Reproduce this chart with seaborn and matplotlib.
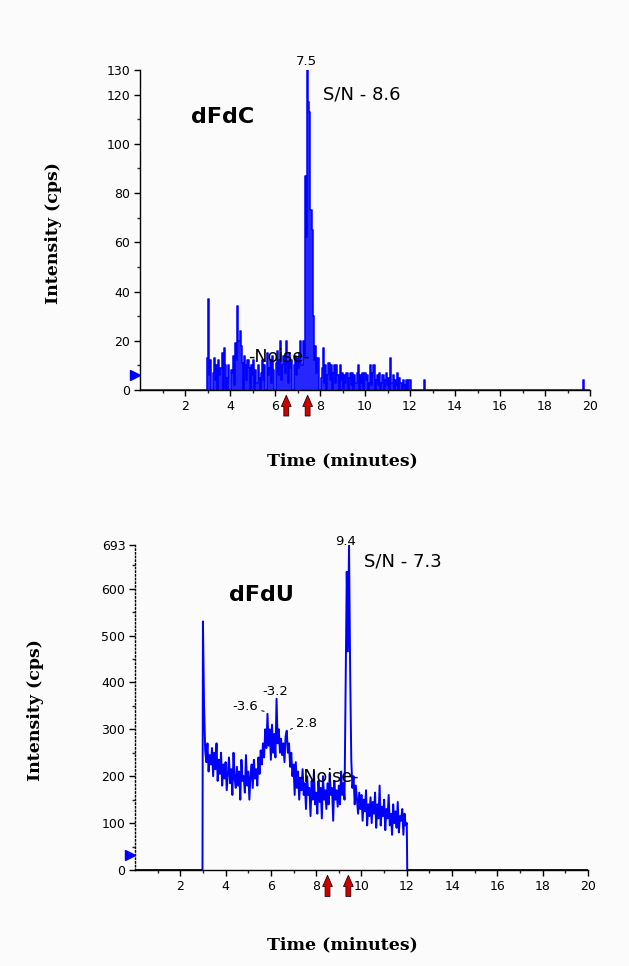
import numpy as np
import pandas as pd
import matplotlib
matplotlib.use("Agg")
import matplotlib.pyplot as plt
import matplotlib.transforms as mtransforms
import seaborn as sns

# ---------------- data ----------------
# dFdC chromatogram: scans every 0.05 min from 2.95 to 12.05 min (counts per second)
dfdc_start, dfdc_step = 2.95, 0.05
dfdc_counts = [
    0, 13, 37, 6, 12, 0, 7, 13, 4, 10,
    0, 12, 6, 9, 15, 0, 17, 10, 0, 5,
    10, 0, 8, 7, 14, 2, 19, 12, 34, 20,
    24, 18, 11, 0, 14, 10, 4, 12, 9, 0,
    10, 6, 12, 0, 8, 3, 10, 5, 0, 7,
    12, 4, 10, 0, 15, 6, 9, 12, 3, 14,
    8, 0, 11, 16, 6, 12, 20, 4, 10, 14,
    7, 20, 11, 3, 15, 9, 12, 0, 10, 14,
    6, 13, 9, 15, 20, 10, 20, 14, 87, 62,
    130, 117, 113, 73, 65, 30, 12, 18, 7, 13,
    13, 0, 5, 9, 17, 3, 10, 0, 6, 11,
    4, 10, 0, 7, 10, 3, 10, 6, 0, 10,
    4, 7, 0, 6, 3, 7, 0, 5, 7, 2,
    7, 0, 6, 3, 7, 10, 0, 6, 3, 7,
    0, 7, 4, 6, 0, 3, 10, 2, 7, 10,
    0, 4, 6, 2, 7, 0, 3, 6, 0, 4,
    7, 2, 5, 0, 13, 3, 6, 0, 4, 2,
    7, 0, 5, 3, 0, 4, 2, 0, 4, 0,
    4, 4, 0,
]
# isolated scans outside the main window
dfdc_extra_t = [0.0, 2.9, 12.6, 12.65, 12.7, 19.65, 19.7, 19.75, 20.0]
dfdc_extra_c = [0, 0, 0, 4, 0, 0, 4, 0, 0]

# dFdU chromatogram: scans every 0.05 min from 3.00 to 12.00 min
dfdu_start, dfdu_step = 3.00, 0.05
dfdu_counts = [
    530, 350, 255, 230, 270, 210, 245, 225, 260, 200,
    250, 215, 270, 190, 235, 205, 250, 180, 225, 195,
    230, 170, 205, 240, 185, 215, 160, 250, 195, 175,
    220, 180, 210, 150, 235, 190, 200, 165, 245, 180,
    210, 150, 200, 225, 175, 235, 195, 215, 180, 240,
    205, 255, 225, 270, 240, 300, 260, 333, 265, 300,
    235, 310, 250, 290, 240, 365, 270, 300, 250, 280,
    245, 270, 230, 285, 297, 250, 270, 220, 250, 200,
    225, 160, 230, 175, 210, 150, 195, 170, 215, 160,
    185, 130, 200, 160, 175, 115, 190, 150, 210, 140,
    165, 120, 190, 145, 175, 110, 200, 150, 170, 130,
    185, 140, 205, 160, 175, 105, 190, 150, 170, 135,
    180, 140, 210, 160, 185, 150, 403, 636, 466, 693,
    424, 233, 175, 200, 140, 180, 150, 120, 165, 130,
    160, 105, 150, 125, 170, 95, 140, 115, 155, 100,
    145, 120, 165, 90, 140, 110, 180, 95, 135, 115,
    150, 85, 130, 110, 160, 95, 120, 75, 140, 100,
    125, 90, 145, 80, 115, 105, 130, 75, 120, 95,
    100,
]
dfdu_extra_t = [0.0, 2.98, 12.02, 20.0]
dfdu_extra_c = [0, 0, 0, 0]

x_ticks = [2, 4, 6, 8, 10, 12, 14, 16, 18, 20]
dfdc_yticks = [0, 20, 40, 60, 80, 100, 120, 130]
dfdu_yticks = [0, 100, 200, 300, 400, 500, 600, 693]

dfdc_arrows = [6.5, 7.45]
dfdu_arrows = [8.5, 9.42]


def build_frame(start, step, counts, extra_t, extra_c):
    t = np.round(start + step * np.arange(len(counts)), 3)
    df = pd.DataFrame({"time": np.r_[t, extra_t], "cps": np.r_[counts, extra_c]})
    return df.sort_values("time").reset_index(drop=True)


dfdc = build_frame(dfdc_start, dfdc_step, dfdc_counts, dfdc_extra_t, dfdc_extra_c)
dfdu = build_frame(dfdu_start, dfdu_step, dfdu_counts, dfdu_extra_t, dfdu_extra_c)

# ---------------- style ----------------
sns.set_style("ticks")
plt.rcParams["font.family"] = ["DejaVu Sans"]
plt.rcParams["text.color"] = "black"
BG = "#fbfbfb"
BLUE = "#0000ff"

fig = plt.figure(figsize=(6.29, 9.66), dpi=100, facecolor=BG)
ax1 = fig.add_axes([0.2226, 0.5963, 0.7154, 0.3312])
ax2 = fig.add_axes([0.2146, 0.0994, 0.7202, 0.3364])


def style_axes(ax, yticks, ymax, yminor, dotted=False):
    ax.set_facecolor(BG)
    ax.set_xlim(0, 20)
    ax.set_ylim(0, ymax)
    ax.set_xticks(x_ticks)
    ax.set_xticks(np.arange(1, 20, 2), minor=True)
    ax.set_yticks(yticks)
    ax.set_yticks(yminor, minor=True)
    ax.set_yticklabels([str(v) for v in yticks])
    for s in ("top", "right"):
        ax.spines[s].set_visible(False)
    for s in ("left", "bottom"):
        ax.spines[s].set_linewidth(1.0)
        ax.spines[s].set_color("black")
    if dotted:
        ax.spines["left"].set_linestyle(":")
    ax.tick_params(axis="both", which="major", length=4, width=1, direction="out",
                   labelsize=9, colors="black", pad=3)
    ax.tick_params(axis="both", which="minor", length=2.5, width=1, direction="out")
    ax.set_xlabel("")
    ax.set_ylabel("")


def arrows(ax, xs):
    tr = mtransforms.blended_transform_factory(ax.transData, ax.transAxes)
    for x in xs:
        ax.annotate("", xy=(x, -0.008), xytext=(x, -0.09), xycoords=tr, textcoords=tr,
                    annotation_clip=False,
                    arrowprops=dict(arrowstyle="simple,head_width=0.7,head_length=0.8,tail_width=0.35",
                                    facecolor="#d00000", edgecolor="#300000", lw=0.6))


def marker(ax, y):
    tr = mtransforms.blended_transform_factory(ax.transAxes, ax.transData)
    ax.plot([-0.012], [y], marker=">", color=BLUE, markersize=7, transform=tr, clip_on=False)


# ---- dFdC panel ----
sns.lineplot(data=dfdc, x="time", y="cps", ax=ax1, color=BLUE, lw=1.1,
             drawstyle="steps-mid", estimator=None, sort=False)
ax1.fill_between(dfdc["time"], dfdc["cps"], step="mid", color=BLUE, alpha=0.85, lw=0)
style_axes(ax1, dfdc_yticks, 130, np.arange(10, 130, 20))
ax1.text(3.66, 111, "dFdC", fontsize=16, fontweight="bold", ha="center", va="center")
ax1.text(8.14, 120, "S/N - 8.6", fontsize=13, ha="left", va="center")
ax1.text(7.4, 133.5, "7.5", fontsize=9.5, ha="center", va="center", clip_on=False)
ax1.text(6.15, 13.4, "-Noise-", fontsize=12.5, ha="center", va="center")
arrows(ax1, dfdc_arrows)
marker(ax1, 6)

# ---- dFdU panel ----
sns.lineplot(data=dfdu, x="time", y="cps", ax=ax2, color=BLUE, lw=1.4,
             estimator=None, sort=False)
style_axes(ax2, dfdu_yticks, 693, np.arange(50, 693, 100), dotted=True)
ax2.text(5.6, 587, "dFdU", fontsize=16, fontweight="bold", ha="center", va="center")
ax2.text(10.1, 657, "S/N - 7.3", fontsize=13, ha="left", va="center")
ax2.text(9.3, 700, "9.4", fontsize=9.5, ha="center", va="center", clip_on=False)
ax2.annotate("-3.6", xy=(5.82, 337), xytext=(5.45, 348), fontsize=9.5, ha="right", va="center",
             arrowprops=dict(arrowstyle="-", lw=0.7, color="black", shrinkA=0, shrinkB=2))
ax2.text(6.2, 381, "-3.2", fontsize=9.5, ha="center", va="center")
ax2.annotate("2.8", xy=(6.75, 298), xytext=(7.1, 313), fontsize=9.5, ha="left", va="center",
             arrowprops=dict(arrowstyle="-", lw=0.7, color="black", shrinkA=0, shrinkB=2))
ax2.text(8.5, 198, "-Noise-", fontsize=12.5, ha="center", va="center")
arrows(ax2, dfdu_arrows)
marker(ax2, 32)

# ---- axis titles ----
serif = ["DejaVu Serif"]
fig.text(0.545, 1 - 461 / 966, "Time (minutes)", family=serif, fontweight="bold",
         fontsize=12.5, ha="center", va="center")
fig.text(0.545, 1 - 945 / 966, "Time (minutes)", family=serif, fontweight="bold",
         fontsize=12.5, ha="center", va="center")
fig.text(53 / 629, 1 - 233 / 966, "Intensity (cps)", family=serif, fontweight="bold",
         fontsize=12.5, ha="center", va="center", rotation=90)
fig.text(36 / 629, 1 - 710 / 966, "Intensity (cps)", family=serif, fontweight="bold",
         fontsize=12.5, ha="center", va="center", rotation=90)

fig.savefig("out.png", dpi=100, facecolor=BG)
